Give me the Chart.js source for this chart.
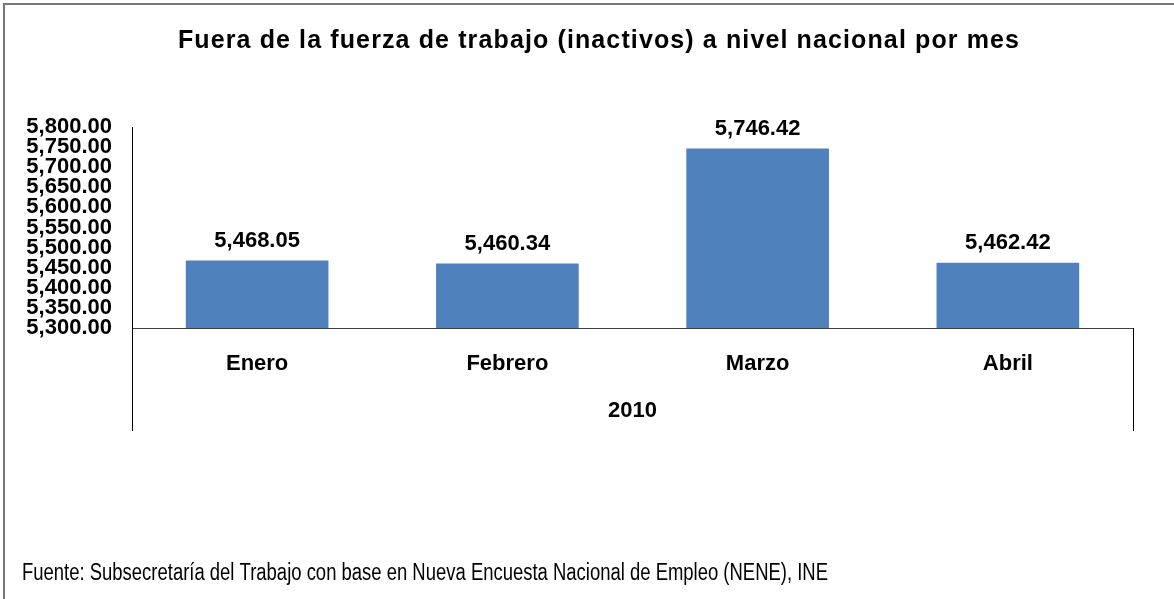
<!DOCTYPE html>
<html>
<head>
<meta charset="utf-8">
<script src="https://cdn.jsdelivr.net/npm/chart.js@4.4.1/dist/chart.umd.min.js"></script>
<style>
  body { margin: 0; background: #fff; }
  #wrap { width: 1174px; height: 599px; }
</style>
</head>
<body>
<div id="wrap"><canvas id="myChart" width="1174" height="599"></canvas></div>
<script>
// data
const months = ['Enero', 'Febrero', 'Marzo', 'Abril'];
const inactivos = [5468.05, 5460.34, 5746.42, 5462.42];
const yearLabel = '2010';
const titleText = 'Fuera de la fuerza de trabajo (inactivos) a nivel nacional por mes';
const sourceText = 'Fuente: Subsecretaría del Trabajo con base en Nueva Encuesta Nacional de Empleo (NENE), INE';

const FONT = '"Liberation Sans", Arial, sans-serif';

function fmt(v) {
    return v.toLocaleString('en-US', { minimumFractionDigits: 2, maximumFractionDigits: 2 });
}

// title, source, frame, value labels and the 2010 group row
const extras = {
    id: 'extras',
    beforeDraw(chart) {
        const c = chart.ctx;
        c.save();
        c.fillStyle = '#fff';
        c.fillRect(0, 0, chart.width, chart.height);
        c.restore();
    },
    afterDraw(chart) {
        const c = chart.ctx;
        const area = chart.chartArea;
        c.save();
        // frame (only top and left show in the original)
        c.strokeStyle = '#777';
        c.lineWidth = 2;
        c.beginPath();
        c.moveTo(4, chart.height);
        c.lineTo(4, 4);
        c.lineTo(chart.width, 4);
        c.stroke();

        // extend the axis down for the year row
        c.strokeStyle = '#000';
        c.lineWidth = 1;
        c.beginPath();
        c.moveTo(area.left + 0.5, area.bottom);
        c.lineTo(area.left + 0.5, 431);
        c.moveTo(area.right + 0.5, area.bottom);
        c.lineTo(area.right + 0.5, 431);
        c.stroke();

        c.fillStyle = '#000';
        c.textAlign = 'center';
        c.textBaseline = 'middle';

        // title, spread a little to the original's width
        c.font = 'bold 25px ' + FONT;
        let w = c.measureText(titleText).width;
        c.letterSpacing = Math.max(0, (842 - w) / titleText.length).toFixed(2) + 'px';
        c.fillText(titleText, 599, 41);
        c.letterSpacing = '0px';

        c.font = 'bold 22px ' + FONT;
        c.fillText(yearLabel, (area.left + area.right) / 2, 411);

        // values over bars
        const meta = chart.getDatasetMeta(0);
        meta.data.forEach((bar, i) => {
            c.fillText(fmt(inactivos[i]), bar.x, bar.y - 20);
        });

        // source note: tall, narrow type
        c.textAlign = 'left';
        c.font = '23px ' + FONT;
        w = c.measureText(sourceText).width;
        c.translate(22, 574);
        c.scale(806 / w, 1);
        c.fillText(sourceText, 0, 0);
        c.restore();
    }
};

var ctx = document.getElementById('myChart');

var myChart = new Chart(ctx, {
    type: 'bar',
    data: {
        labels: months,
        datasets: [{
            data: inactivos,
            backgroundColor: '#4F81BD',
            borderWidth: 0,
            categoryPercentage: 1,
            barPercentage: 0.57
        }]
    },
    options: {
        responsive: false,
        animation: false,
        layout: { padding: { left: 4, right: 41, top: 127, bottom: 171 } },
        plugins: {
            legend: { display: false },
            title: { display: false },
            tooltip: { enabled: false }
        },
        scales: {
            x: {
                grid: { display: false, drawTicks: false },
                border: { display: true, color: '#404040', width: 1 },
                ticks: {
                    color: '#000',
                    padding: 23,
                    font: { family: FONT, size: 22, weight: 'bold' }
                },
                afterFit(s) { s.height = 100; }
            },
            y: {
                min: 5300,
                max: 5800,
                grid: { display: false, drawTicks: false },
                border: { display: true, color: '#000', width: 1 },
                ticks: {
                    stepSize: 50,
                    autoSkip: false,
                    color: '#000',
                    padding: 20,
                    font: { family: FONT, size: 22, weight: 'bold', lineHeight: 1 },
                    callback: v => fmt(v)
                },
                afterFit(s) { s.width = 128; }
            }
        }
    },
    plugins: [extras]
});
</script>
</body>
</html>
